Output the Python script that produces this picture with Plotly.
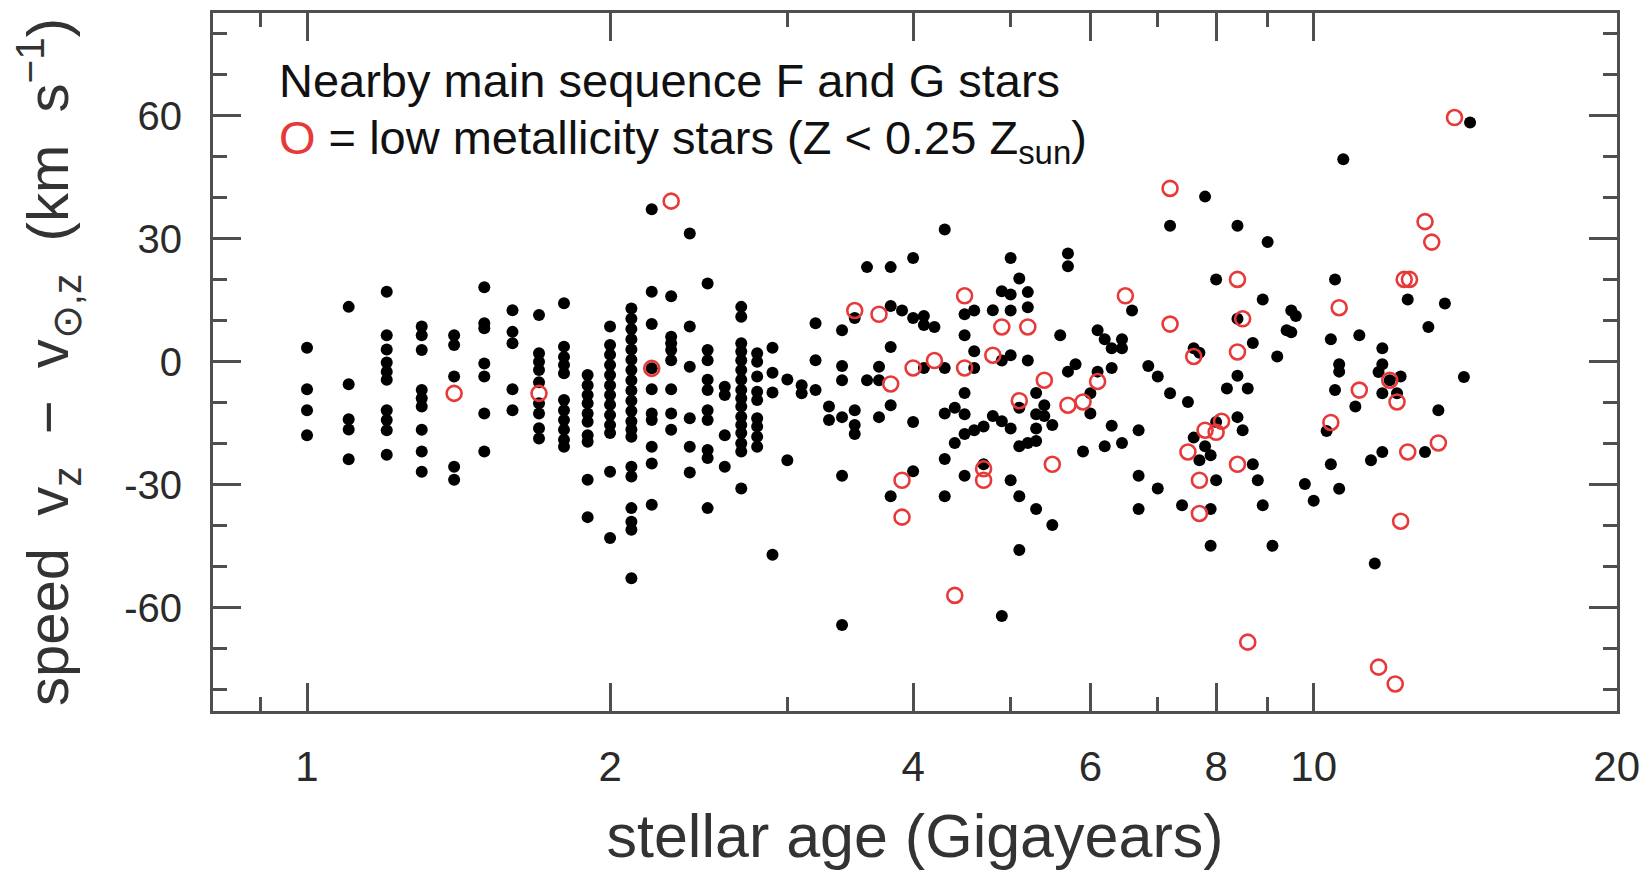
import plotly.graph_objects as go

# ---------------- data ----------------
# black dots: nearby main-sequence F and G stars (age in Gyr, v_z - v_sun,z in km/s)
black_age = (
    [1.0]*4 + [1.1]*5 + [1.2]*10 + [1.3]*9 + [1.4]*5 + [1.5]*7 + [1.6]*5 + [1.7]*9 +
    [1.8]*11 + [1.9]*10 + [2.0]*13 + [2.1]*20 + [2.2]*10 + [2.3]*8 + [2.4]*6 + [2.5]*10 +
    [2.6]*4 + [2.7]*16 + [2.8]*9 + [2.9]*4 + [3.0]*2 + [3.1]*2 + [3.2]*3 + [3.3]*2 +
    [3.4]*6 + [3.5]*4 + [3.6]*2 + [3.7]*3 + [3.8]*5 + [3.9]*1 + [4.0]*4 + [4.1]*3 +
    [4.2]*1 + [4.3]*5 + [4.4]*2 + [4.5]*6 + [4.6]*4 + [4.7]*2 + [4.8]*2 + [4.9]*4 +
    [5.0]*6 + [5.1]*5 + [5.2]*4 + [5.3]*5 + [5.4]*2 + [5.5]*2 + [5.6]*1 + [5.7]*3 +
    [5.8]*1 + [5.9]*1 + [6.0]*2 + [6.1]*2 + [6.2]*2 + [6.3]*3 + [6.45]*3 + [6.6]*1 +
    [6.7]*3 + [6.85]*1 + [7.0]*2 + [7.2]*2 + [7.4]*1 + [7.5]*1 + [7.6]*2 + [7.7]*2 +
    [7.8]*2 + [7.9]*3 + [8.0]*3 + [8.2]*1 + [8.4]*4 + [8.5]*1 + [8.6]*1 + [8.7]*2 +
    [8.8]*1 + [8.9]*2 + [9.0]*1 + [9.1]*1 + [9.2]*1 + [9.4]*1 + [9.5]*2 + [9.6]*1 +
    [9.8]*1 + [10.0]*1 + [10.3]*1 + [10.4]*2 + [10.5]*2 + [10.6]*3 + [10.7]*1 +
    [11.0]*1 + [11.1]*1 + [11.4]*1 + [11.5]*1 + [11.6]*1 + [11.7]*4 + [11.9]*1 +
    [12.1]*1 + [12.2]*1 + [12.4]*1 + [12.9]*1 + [13.0]*1 + [13.3]*1 + [13.5]*1 +
    [14.1]*1 + [14.3]*1
)
black_v = [
    3.4, -6.7, -11.8, -17.9,
    13.4, -5.5, -14.0, -16.5, -23.8,
    17.1, 6.5, 3.0, -0.2, -2.4, -4.4, -11.8, -14.2, -16.7, -22.7,
    8.6, 6.5, 2.9, -6.9, -8.9, -10.9, -16.6, -21.9, -26.8,
    6.5, 4.1, -3.6, -25.6, -28.8,
    18.2, 9.4, 8.2, -0.4, -3.6, -12.6, -21.9,
    12.6, 7.3, 4.5, -6.7, -11.8,
    11.4, 2.1, 0.0, -2.0, -5.0, -10.1, -12.6, -16.2, -18.7,
    14.3, 3.7, 1.2, -0.8, -2.8, -9.3, -11.8, -14.2, -16.6, -19.0, -20.7,
    -3.2, -5.7, -8.1, -10.1, -12.6, -14.6, -17.9, -19.5, -28.8, -37.9,
    8.6, 4.1, 1.7, -0.8, -3.2, -5.7, -8.1, -10.5, -13.0, -15.4, -17.4, -26.8, -43.0,
    13.0, 10.5, 8.0, 5.5, 3.0, 0.5, -2.0, -4.5, -7.0, -9.5, -12.0, -14.5, -16.5, -18.3,
    -25.6, -28.0, -35.7, -39.0, -41.0, -52.8,
    37.2, 17.1, 9.2, -1.6, -6.7, -12.6, -14.2, -20.7, -24.8, -34.9,
    16.0, 6.1, 4.5, 2.9, 0.4, -6.7, -12.6, -16.6,
    31.3, 8.6, -1.2, -13.8, -20.7, -27.0,
    19.1, 2.9, 0.4, -4.4, -6.9, -11.8, -14.2, -21.5, -23.5, -35.7,
    -6.1, -8.1, -17.9, -25.6,
    13.4, 11.0, 4.5, 2.5, 0.4, -2.0, -4.4, -6.9, -8.9, -10.9, -13.4, -15.4, -17.4, -19.9,
    -21.9, -30.9,
    2.1, 0.0, -3.6, -7.3, -9.3, -13.8, -15.8, -18.3, -20.7,
    3.4, -2.7, -7.5, -47.1,
    -4.3, -24.0,
    -5.7, -7.7,
    9.4, 0.4, -6.9,
    -10.9, -14.2,
    7.7, -1.0, -4.5, -13.5, -27.8, -64.2,
    10.7, -11.8, -15.4, -17.6,
    23.1, -4.5,
    -1.2, -4.5, -13.5,
    23.1, 13.6, 3.6, -10.6, -32.8,
    12.5,
    25.3, 10.7, -14.7, -26.7,
    11.2, 9.0, -1.5,
    8.5,
    32.3, -1.5, -12.6, -23.7, -32.8,
    -11.2, -19.8,
    11.6, 6.5, -7.6, -12.8, -17.6, -27.8,
    12.5, 2.6, -1.5, -16.7,
    -15.8, -25.0,
    12.6, -13.2,
    17.2, 0.3, -14.5, -62.0,
    25.3, 16.4, 12.5, 1.6, -16.3, -28.9,
    20.3, -11.2, -20.6, -32.8, -45.9,
    17.0, 13.3, 0.3, -19.8,
    -7.6, -12.8, -16.3, -19.3, -35.9,
    -10.6, -13.2,
    -15.4, -39.8,
    6.5,
    26.4, 23.3, -2.4,
    -0.6,
    -21.9,
    -7.7, -12.6,
    7.7, -2.4,
    5.5, -20.6,
    3.3, -1.5, -15.6,
    5.5, 3.3, -19.8,
    12.5,
    -16.7, -27.8, -35.9,
    -1.0,
    -3.6, -30.9,
    33.2, -7.7,
    -35.0,
    -9.8,
    3.3, -18.5,
    2.2, -24.0,
    40.3, -20.6,
    -22.8, -35.9, -44.9,
    20.1, -28.9, -14.7,
    -6.5,
    33.2, 10.5, -3.4, -13.5,
    -16.7,
    -6.5,
    4.6, -25.0,
    -28.9,
    15.2, -35.0,
    29.2,
    -44.9,
    1.3,
    7.7,
    12.5, 7.2,
    11.2,
    -29.8,
    -33.9,
    -16.9,
    5.5, -25.0,
    20.1, -6.9,
    -0.6, -2.4, -31.0,
    49.4,
    -10.9,
    6.5,
    -24.0,
    -49.2,
    -2.5,
    -0.6, -7.7, -22.0, 3.3,
    -4.5,
    -7.7,
    -3.6,
    15.2,
    -22.0,
    8.5,
    -11.8,
    14.2,
    -3.7,
    58.4,
]

# red open circles: low metallicity stars (Z < 0.25 Z_sun)
red_age = [1.4, 1.7, 2.2, 2.3, 3.5, 3.7, 3.8, 3.9, 3.9, 4.0, 4.2, 4.4, 4.5, 4.5, 4.7, 4.7,
           4.8, 4.9, 5.1, 5.2, 5.4, 5.5, 5.7, 5.9, 6.1, 6.5, 7.2, 7.2, 7.5, 7.6, 7.7, 7.7,
           7.8, 8.0, 8.1, 8.4, 8.4, 8.4, 8.5, 8.6, 10.4, 10.6, 11.1, 11.6, 11.9, 12.05,
           12.1, 12.2, 12.3, 12.45, 12.4, 12.9, 13.1, 13.3, 13.8]
red_v = [-7.7, -7.7, -1.6, 39.2, 12.5, 11.6, -5.4, -28.9, -37.9, -1.5, 0.3, -57.0, 16.1, -1.5,
         -26.1, -28.9, 1.6, 8.5, -9.5, 8.5, -4.5, -25.0, -10.6, -9.8, -4.8, 16.1, 42.3, 9.2,
         -22.0, 1.3, -28.9, -37.0, -16.7, -17.2, -14.5, 20.1, 2.4, -25.0, 10.5, -68.4,
         -14.8, 13.2, -6.9, -74.5, -4.5, -78.6, -9.8, -38.9, 20.1, 20.1, -22.0, 34.2, 29.2,
         -19.8, 59.6]

x_ticks = [1, 2, 4, 6, 8, 10, 20]
x_minor_ticks = [0.9, 3, 5, 7, 9]
y_ticks = [-60, -30, 0, 30, 60]
y_ticktext = ["-60", "-30", "0", "30", "60"]

# ---------------- figure ----------------
W, H = 1649, 870
L, R, T, B = 213, 32, 13, 159
AX = "#4f4f4f"
FONT = "Liberation Sans, Arial, Helvetica, sans-serif"

fig = go.Figure()
fig.add_trace(go.Scatter(
    x=black_age, y=black_v, mode="markers", showlegend=False,
    marker=dict(size=12, color="black", line=dict(width=0)),
))
fig.add_trace(go.Scatter(
    x=red_age, y=red_v, mode="markers", showlegend=False,
    marker=dict(symbol="circle-open", size=15, color="#e8393a", line=dict(width=2.6)),
))

common = dict(
    showline=True, linecolor=AX, linewidth=3, mirror="ticks",
    ticks="inside", ticklen=28, tickwidth=2.5, tickcolor=AX,
    showgrid=False, zeroline=False,
)

fig.update_xaxes(
    type="log", range=[-0.0934, 1.3013],
    tickmode="array", tickvals=x_ticks, ticktext=[str(t) for t in x_ticks],
    minor=dict(tickmode="array", tickvals=x_minor_ticks, ticks="inside",
               ticklen=14, tickwidth=2.5, tickcolor=AX, showgrid=False),
    ticklabelstandoff=17,
    tickfont=dict(family=FONT, size=42, color="#2a2a2a"),
    title=dict(text="stellar age (Gigayears)", standoff=26,
               font=dict(family=FONT, size=61, color="#333333")),
    **common,
)
fig.update_yaxes(
    range=[-85.2, 85.1],
    tickmode="array", tickvals=y_ticks, ticktext=y_ticktext,
    minor=dict(dtick=10, tick0=0, ticks="inside",
               ticklen=14, tickwidth=2.5, tickcolor=AX, showgrid=False),
    ticklabelstandoff=20,
    tickfont=dict(family=FONT, size=40, color="#2a2a2a"),
    title=dict(
        text="speed\u00a0\u00a0v<sub>z</sub>\u00a0\u00a0\u2212\u00a0\u00a0v<sub>\u2299,z</sub>\u00a0\u00a0(km\u00a0\u00a0s<sup>\u22121</sup>)",
        standoff=37, font=dict(family=FONT, size=58, color="#333333")),
    **common,
)

pw, ph = W - L - R, H - T - B
def px(xp):
    return (xp - L) / pw
def py(yp):
    return (H - B - yp) / ph

fig.add_annotation(
    x=px(277), y=py(80), xref="paper", yref="paper", xanchor="left", yanchor="middle",
    text="Nearby main sequence F and G stars", showarrow=False,
    font=dict(family=FONT, size=47, color="#111111"),
)
fig.add_annotation(
    x=px(277), y=py(141), xref="paper", yref="paper", xanchor="left", yanchor="middle",
    text="<span style='color:#e8393a'>O</span> = low metallicity stars (Z &lt; 0.25 Z<sub>sun</sub>)",
    showarrow=False, font=dict(family=FONT, size=47, color="#111111"),
)

fig.update_layout(
    width=W, height=H, margin=dict(l=L, r=R, t=T, b=B, autoexpand=False),
    paper_bgcolor="white", plot_bgcolor="white",
)

fig.write_html("out.html")
